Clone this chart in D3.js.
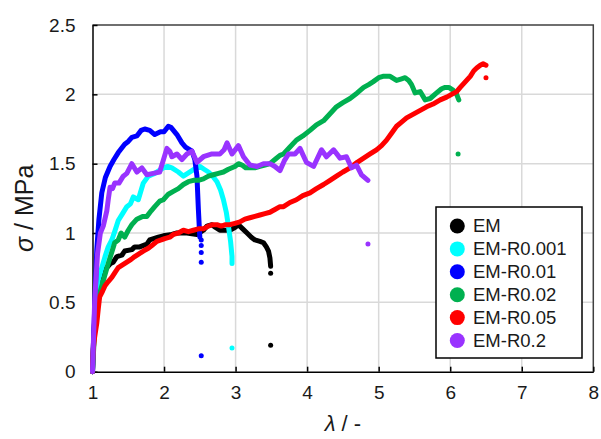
<!DOCTYPE html>
<html>
<head>
<meta charset="utf-8">
<script src="https://cdn.jsdelivr.net/npm/d3@7"></script>
<style>
html,body{margin:0;padding:0;background:#fff;}
svg{display:block;font-family:"Liberation Sans",Arial,sans-serif;}
</style>
</head>
<body>
<svg id="chart" width="601" height="439"></svg>
<script>
// ---- data ----
const seriesNames = ["EM","EM-R0.001","EM-R0.01","EM-R0.02","EM-R0.05","EM-R0.2"];
const seriesColors = ["#000000","#00ffff","#0000ff","#00b050","#ff0000","#9933ff"];
const xTicks = [1,2,3,4,5,6,7,8];
const yTicks = [0,0.5,1,1.5,2,2.5];

const emCurve = [[1.00,0.00],[1.02,0.30],[1.05,0.50],[1.09,0.60],[1.15,0.71],[1.20,0.75],[1.25,0.78],[1.29,0.79],[1.34,0.83],[1.41,0.84],[1.45,0.87],[1.55,0.88],[1.59,0.90],[1.66,0.90],[1.76,0.92],[1.80,0.95],[1.92,0.97],[1.99,0.98],[2.11,0.99],[2.18,1.00],[2.32,1.00],[2.46,0.99],[2.55,1.02],[2.60,1.05],[2.67,1.06],[2.72,1.04],[2.78,1.02],[2.92,1.02],[2.99,1.04],[3.04,1.06],[3.10,1.03],[3.16,1.00],[3.22,0.97],[3.27,0.95],[3.34,0.94],[3.39,0.93],[3.43,0.90],[3.46,0.87],[3.48,0.82],[3.49,0.76]];
const emDots = [[3.49,0.71],[3.49,0.19]];

const r0001Curve = [[1.00,0.00],[1.02,0.25],[1.04,0.45],[1.08,0.66],[1.13,0.75],[1.175,0.83],[1.22,0.90],[1.27,0.95],[1.31,1.01],[1.36,1.09],[1.42,1.14],[1.48,1.19],[1.53,1.21],[1.57,1.26],[1.64,1.24],[1.71,1.36],[1.78,1.41],[1.87,1.43],[1.93,1.45],[1.99,1.47],[2.05,1.48],[2.11,1.47],[2.20,1.44],[2.27,1.41],[2.33,1.43],[2.39,1.45],[2.45,1.47],[2.50,1.48],[2.56,1.46],[2.62,1.44],[2.68,1.41],[2.74,1.37],[2.79,1.31],[2.83,1.24],[2.87,1.15],[2.90,1.05],[2.93,0.94],[2.95,0.83],[2.95,0.78]];
const r0001Dots = [[2.95,0.17]];

const r001Curve = [[1.00,0.00],[1.02,0.30],[1.04,0.60],[1.06,0.88],[1.09,1.10],[1.13,1.29],[1.18,1.40],[1.245,1.48],[1.30,1.53],[1.36,1.58],[1.45,1.64],[1.50,1.66],[1.55,1.69],[1.62,1.70],[1.68,1.74],[1.73,1.75],[1.80,1.74],[1.87,1.71],[1.95,1.73],[2.00,1.73],[2.06,1.77],[2.10,1.76],[2.18,1.71],[2.25,1.65],[2.30,1.62],[2.39,1.59],[2.43,1.53],[2.46,1.41],[2.48,1.17],[2.50,0.97]];
const r001Dots = [[2.52,0.95],[2.52,0.91],[2.52,0.86],[2.52,0.79],[2.52,0.115]];

const r002Curve = [[1.00,0.00],[1.03,0.30],[1.07,0.50],[1.12,0.60],[1.175,0.70],[1.22,0.78],[1.28,0.88],[1.31,0.93],[1.36,0.95],[1.40,1.00],[1.45,0.97],[1.50,1.02],[1.55,1.06],[1.62,1.10],[1.70,1.12],[1.76,1.12],[1.82,1.16],[1.87,1.19],[1.94,1.23],[1.99,1.24],[2.06,1.28],[2.13,1.30],[2.20,1.32],[2.27,1.35],[2.34,1.37],[2.41,1.38],[2.48,1.38],[2.55,1.39],[2.62,1.41],[2.69,1.42],[2.76,1.43],[2.83,1.44],[2.90,1.46],[2.99,1.48],[3.04,1.50],[3.09,1.49],[3.14,1.47],[3.20,1.47],[3.27,1.47],[3.34,1.48],[3.41,1.49],[3.48,1.50],[3.55,1.53],[3.62,1.56],[3.67,1.57],[3.76,1.62],[3.85,1.67],[3.94,1.70],[4.04,1.74],[4.13,1.78],[4.23,1.81],[4.32,1.86],[4.41,1.91],[4.50,1.94],[4.60,1.97],[4.70,2.01],[4.79,2.05],[4.86,2.07],[4.92,2.09],[5.00,2.12],[5.06,2.13],[5.16,2.13],[5.25,2.10],[5.31,2.11],[5.37,2.12],[5.42,2.10],[5.46,2.07],[5.51,2.01],[5.58,2.02],[5.65,1.96],[5.72,1.97],[5.81,2.01],[5.88,2.04],[5.93,2.05],[5.98,2.05],[6.04,2.03],[6.09,2.00],[6.12,1.96]];
const r002Dots = [[6.11,1.57]];

const r005Curve = [[1.00,0.00],[1.005,0.10],[1.01,0.16],[1.03,0.25],[1.06,0.35],[1.08,0.45],[1.10,0.54],[1.14,0.58],[1.175,0.62],[1.22,0.65],[1.27,0.68],[1.32,0.72],[1.36,0.75],[1.42,0.77],[1.48,0.79],[1.54,0.81],[1.59,0.83],[1.65,0.85],[1.71,0.87],[1.78,0.89],[1.83,0.91],[1.90,0.94],[1.96,0.95],[2.01,0.96],[2.08,0.97],[2.13,0.99],[2.20,1.00],[2.27,1.02],[2.34,1.01],[2.41,1.02],[2.48,1.03],[2.55,1.03],[2.62,1.05],[2.68,1.06],[2.74,1.06],[2.80,1.05],[2.86,1.06],[2.92,1.06],[2.99,1.07],[3.06,1.08],[3.13,1.10],[3.20,1.11],[3.27,1.12],[3.34,1.13],[3.41,1.14],[3.48,1.15],[3.55,1.17],[3.62,1.19],[3.67,1.19],[3.76,1.22],[3.85,1.24],[3.94,1.27],[4.04,1.29],[4.13,1.32],[4.23,1.35],[4.32,1.38],[4.41,1.41],[4.50,1.44],[4.60,1.47],[4.70,1.51],[4.79,1.54],[4.88,1.57],[4.97,1.60],[5.04,1.63],[5.11,1.67],[5.18,1.72],[5.25,1.77],[5.32,1.80],[5.39,1.83],[5.46,1.85],[5.53,1.87],[5.60,1.89],[5.67,1.91],[5.76,1.93],[5.86,1.96],[5.95,1.98],[6.02,2.00],[6.09,2.02],[6.14,2.05],[6.21,2.09],[6.28,2.13],[6.33,2.17],[6.37,2.19],[6.42,2.21],[6.46,2.22],[6.50,2.21]];
const r005Dots = [[6.50,2.12]];

const r02Curve = [[1.00,0.00],[1.03,0.50],[1.07,0.85],[1.11,1.00],[1.15,1.05],[1.20,1.16],[1.22,1.24],[1.245,1.33],[1.28,1.32],[1.31,1.36],[1.37,1.36],[1.43,1.41],[1.48,1.43],[1.55,1.50],[1.62,1.44],[1.69,1.47],[1.76,1.42],[1.85,1.43],[1.94,1.44],[2.01,1.56],[2.04,1.61],[2.08,1.59],[2.11,1.55],[2.18,1.57],[2.25,1.53],[2.32,1.57],[2.39,1.59],[2.46,1.51],[2.55,1.55],[2.67,1.57],[2.78,1.57],[2.84,1.60],[2.88,1.65],[2.95,1.57],[3.04,1.63],[3.11,1.55],[3.20,1.49],[3.30,1.48],[3.39,1.50],[3.48,1.50],[3.55,1.48],[3.62,1.45],[3.68,1.52],[3.74,1.57],[3.83,1.57],[3.90,1.61],[3.99,1.51],[4.09,1.48],[4.20,1.60],[4.27,1.55],[4.37,1.60],[4.46,1.54],[4.55,1.55],[4.62,1.47],[4.69,1.49],[4.76,1.42],[4.85,1.38]];
const r02Dots = [[4.85,0.92]];

const curves = [emCurve, r0001Curve, r001Curve, r002Curve, r005Curve, r02Curve];
const dots = [emDots, r0001Dots, r001Dots, r002Dots, r005Dots, r02Dots];

// ---- drawing ----
const svg = d3.select("#chart");
const x = d3.scaleLinear().domain([1,8]).range([92.5,593.3]);
const y = d3.scaleLinear().domain([0,2.5]).range([371.7,25]);
const textColor = "#1a1a1a";

// gridlines
const grid = svg.append("g");
grid.selectAll("line.v").data(xTicks.filter(d=>d>1 && d<8)).enter().append("line")
  .attr("x1",d=>x(d)).attr("x2",d=>x(d)).attr("y1",y(0)).attr("y2",y(2.5))
  .attr("stroke","#d9d9d9").attr("stroke-width",1.5);
grid.selectAll("line.h").data(yTicks.filter(d=>d>0 && d<2.5)).enter().append("line")
  .attr("x1",x(1)).attr("x2",x(8)).attr("y1",d=>y(d)).attr("y2",d=>y(d))
  .attr("stroke","#d9d9d9").attr("stroke-width",1.5);

// frame (top/right)
svg.append("path")
  .attr("d",`M${x(1)},${y(2.5)}H${x(8)}V${y(0)}`)
  .attr("fill","none").attr("stroke","#404040").attr("stroke-width",1.5);

// axes
const xAxis = svg.append("g").attr("transform",`translate(0,${y(0)})`)
  .call(d3.axisBottom(x).tickValues(xTicks).tickSizeInner(-5).tickSizeOuter(0).tickPadding(14).tickFormat(d3.format("d")));
const yAxis = svg.append("g").attr("transform",`translate(${x(1)},0)`)
  .call(d3.axisLeft(y).tickValues(yTicks).tickSizeInner(-5).tickSizeOuter(0).tickPadding(17).tickFormat(d=>String(d)));
[xAxis,yAxis].forEach(a=>{
  a.select(".domain").attr("stroke","#000").attr("stroke-width",1.5);
  a.selectAll(".tick line").attr("stroke","#000").attr("stroke-width",1.5);
  a.selectAll(".tick text").attr("fill",textColor).style("font-size","19px").style("font-family","'Liberation Sans',Arial,sans-serif");
});

// curves
const line = d3.line().x(d=>x(d[0])).y(d=>y(d[1]));
const plot = svg.append("g");
curves.forEach((c,i)=>{
  plot.append("path").datum(c).attr("d",line)
    .attr("fill","none").attr("stroke",seriesColors[i]).attr("stroke-width",5)
    .attr("stroke-linejoin","round").attr("stroke-linecap","round");
});
dots.forEach((ds,i)=>{
  plot.selectAll(null).data(ds).enter().append("circle")
    .attr("cx",d=>x(d[0])).attr("cy",d=>y(d[1])).attr("r",2.5)
    .attr("fill",seriesColors[i]);
});

// axis titles
svg.append("text")
  .attr("transform",`translate(33,${(y(0)+y(2.5))/2 + 10}) rotate(-90)`)
  .attr("text-anchor","middle").attr("fill",textColor)
  .style("font-size","25px")
  .html('<tspan font-style="italic">σ</tspan> / MPa');
svg.append("text")
  .attr("x",(x(1)+x(8))/2).attr("y",431)
  .attr("text-anchor","middle").attr("fill",textColor)
  .style("font-size","22px")
  .html('<tspan font-style="italic">λ</tspan> / -');

// legend
const lg = svg.append("g");
lg.append("rect").attr("x",436).attr("y",207).attr("width",146).attr("height",151)
  .attr("fill","#fff").attr("stroke","#000").attr("stroke-width",1.5);
const items = lg.selectAll("g.item").data(seriesNames).enter().append("g")
  .attr("transform",(d,i)=>`translate(0,${226 + i*22.9})`);
items.append("circle").attr("cx",457.3).attr("cy",0).attr("r",7.5)
  .attr("fill",(d,i)=>seriesColors[i]);
items.append("text").attr("x",473).attr("y",0).attr("dy","0.35em")
  .attr("fill",textColor).style("font-size","18.5px").text(d=>d);
</script>
</body>
</html>
